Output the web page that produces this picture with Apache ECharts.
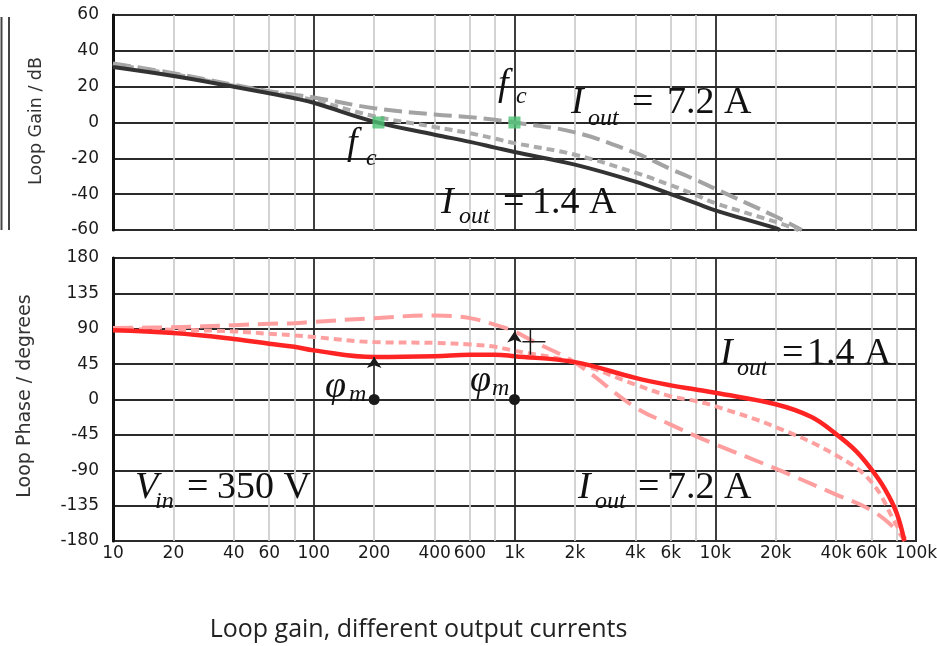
<!DOCTYPE html>
<html><head><meta charset="utf-8">
<script src="https://cdn.jsdelivr.net/npm/echarts@6/dist/echarts.min.js"></script>
<style>html,body{margin:0;padding:0;background:#fff}#c{width:937px;height:646px}</style>
</head><body><div id="c"></div>
<script>
// ---- axis ticks ----
const xTickValues = [10,20,40,60,80,100,200,400,600,800,1000,2000,4000,6000,8000,10000,20000,40000,60000,80000,100000];
const xLabelValues = [10,20,40,60,100,200,400,600,1000,2000,4000,6000,10000,20000,40000,60000,100000];

// ---- loop gain (dB) ----
const gainFreq14 = [10,20,40,60,80,100,200,400,600,800,1000,2000,4000,6000,8000,10000,20000,21000];
const gain14     = [31,26,20,16.3,13.5,11,0.5,-6.8,-10.8,-14,-16.5,-23.5,-33,-40,-45,-49,-59,-60];
const gainFreqMid = [10,20,40,60,80,100,200,400,600,800,1000,2000,4000,6000,8000,10000,20000,26000];
const gainMid     = [32.5,27,20.5,17,14.5,12.5,3.5,-2.5,-6,-9,-11.5,-18,-28,-35,-40.5,-45,-55.5,-60];
const gainFreq72 = [10,20,40,60,80,100,200,400,600,800,1000,2000,4000,6000,8000,10000,20000,27000];
const gain72     = [33,27.5,21,17.5,15.5,14,8,4.5,3,1.5,0,-5.5,-17,-26,-32,-37,-52.5,-60];

// ---- loop phase (degrees) ----
const phaseFreq14 = [10,20,40,60,80,100,200,400,600,800,1000,2000,4000,6000,8000,10000,20000,30000,40000,50000,60000,70000,80000,87500];
const phase14     = [88,84.5,77,71,67,62.5,54,55,57,57,55,47.5,27.5,18,12.7,8.5,-6,-22,-44,-65,-89,-114,-144,-180];
const phaseFreqMid = [10,20,40,60,80,100,200,400,600,800,1000,2000,4000,6000,8000,10000,20000,40000,60000,80000,90000];
const phaseMid     = [89.6,88.7,86.6,83.6,81.5,79.5,73,72,70,67,62,47,19,4,-2,-8.5,-35,-71,-105,-160,-180];
const phaseFreq72 = [10,20,40,60,80,100,200,400,600,800,1000,1250,2000,4000,6000,8000,10000,20000,40000,60000,80000,88000];
const phase72     = [91,92,94.6,96.3,97,98.8,103.5,107,103.5,95,86.5,73.5,47,-10,-32,-46.5,-57,-88,-121,-141,-166,-180];

// ---- annotation points ----
const fcPoints = [[210,0],[1000,0]];
const marginArrows = [[200,54],[1000,86.5]];
const crossMark = [1200,73.5];

const zip = (f, v) => f.map((x, i) => [x, v[i]]);
const serif = '"Liberation Serif","Times New Roman",serif';
const sans = '"DejaVu Sans",sans-serif';
function t(x, y, text, size, italic) {
  return {type:'text', x:x, y:y, z:100, silent:true,
    style:{text:text, font:(italic?'italic ':'')+size+'px '+serif, fill:'#111', align:'left', verticalAlign:'middle'}};
}

const xFmt = v => v >= 1000 ? (v/1000)+'k' : String(v);
const vSplitColors = ['#2a2a2a','#cfcfcf','#cfcfcf','#cfcfcf','#cfcfcf'];

function xAxis(grid, showLabels) {
  return {
    type:'log', logBase:10, min:10, max:100000, gridIndex:grid,
    axisLine:{show:false},
    axisTick:{show:false, customValues:xTickValues},
    axisLabel:{show:showLabels, customValues:xLabelValues, formatter:xFmt, color:'#1a1a1a',
      fontFamily:sans, fontSize:17, margin:4, hideOverlap:false, interval:0},
    splitLine:{show:true, lineStyle:{color:vSplitColors, width:1.8}},
    minorSplitLine:{show:false}
  };
}
function yAxis(grid, min, max, interval) {
  return {
    type:'value', gridIndex:grid, min:min, max:max, interval:interval,
    axisLine:{show:true, onZero:false, lineStyle:{color:'#111', width:3}},
    axisTick:{show:false},
    axisLabel:{color:'#1a1a1a', fontFamily:sans, fontSize:17, margin:14, padding:[6,0,0,0], hideOverlap:false},
    splitLine:{show:true, lineStyle:{color:'#2a2a2a', width:1.8}}
  };
}

const graphics = [
  {type:'line', shape:{x1:1.5,y1:17,x2:1.5,y2:230}, style:{stroke:'#444', lineWidth:2}},
  {type:'line', shape:{x1:9,y1:17,x2:9,y2:230}, style:{stroke:'#444', lineWidth:2}},
  {type:'text', x:36, y:121, rotation:Math.PI/2, style:{text:'Loop Gain / dB', font:'17.5px '+sans, fill:'#333', align:'center', verticalAlign:'middle'}},
  {type:'text', x:25, y:396, rotation:Math.PI/2, style:{text:'Loop Phase / degrees', font:'19px '+sans, fill:'#333', align:'center', verticalAlign:'middle'}},
  // gain annotations
  t(347,144,'f',38,true), t(366,159,'c',24,true),
  t(498,85,'f',38,true), t(516,97,'c',24,true),
  t(571,103.5,'I',38,true), t(588,119,'out',24,true), t(632,103.5,'=',38,false), t(667,103.5,'7.2 A',38,false),
  t(441,203.5,'I',38,true), t(459,217,'out',24,true), t(503,203.5,'=',38,false), t(532,203.5,'1.4 A',38,false),
  // phase annotations
  t(720,354,'I',38,true), t(737,369,'out',24,true), t(782,354,'=',38,false), t(807,354,'1.4 A',38,false),
  t(135,488.5,'V',38,true), t(155,502,'in',24,true), t(187,488.5,'=',38,false), t(217,488.5,'350 V',38,false),
  t(578,488.5,'I',38,true), t(595,502,'out',24,true), t(638,488.5,'=',38,false), t(667,488.5,'7.2 A',38,false),
  t(325,387,'φ',38,true), t(349,395,'m',24,true),
  t(470,381,'φ',38,true), t(492,389,'m',24,true),
  {type:'text', x:418.5, y:630, style:{text:'Loop gain, different output currents', font:'25px "Open Sans", sans-serif', fill:'#222', align:'center', verticalAlign:'middle'}}
];

const option = {
  backgroundColor:'#fff',
  animation:false,
  grid:[
    {left:113, top:15, width:803, height:215, show:true, borderColor:'#222', borderWidth:2, containLabel:false, outerBoundsMode:'none'},
    {left:113, top:258, width:803, height:283, show:true, borderColor:'#222', borderWidth:2, containLabel:false, outerBoundsMode:'none'}
  ],
  xAxis:[xAxis(0,false), xAxis(1,true)],
  yAxis:[yAxis(0,-60,60,20), yAxis(1,-180,180,45)],
  series:[
    {type:'line', xAxisIndex:0, yAxisIndex:0, data:zip(gainFreq72,gain72), showSymbol:false, symbol:'none',
      smooth:0.4, lineStyle:{color:'#a3a3a3', width:4, type:[18,7]}, z:3},
    {type:'line', xAxisIndex:0, yAxisIndex:0, data:zip(gainFreqMid,gainMid), showSymbol:false, symbol:'none',
      smooth:0.4, lineStyle:{color:'#ababab', width:4, type:[8,5]}, z:3},
    {type:'line', xAxisIndex:0, yAxisIndex:0, data:zip(gainFreq14,gain14), showSymbol:false, symbol:'none',
      smooth:0.4, lineStyle:{color:'#333', width:4}, z:4},
    {type:'scatter', xAxisIndex:0, yAxisIndex:0, data:fcPoints, symbol:'rect', symbolSize:12,
      itemStyle:{color:'#4cc174'}, z:10, silent:true},

    {type:'line', xAxisIndex:1, yAxisIndex:1, data:zip(phaseFreq72,phase72), showSymbol:false, symbol:'none',
      smooth:0.4, lineStyle:{color:'#ff9e9e', width:4, type:[20,9]}, z:3},
    {type:'line', xAxisIndex:1, yAxisIndex:1, data:zip(phaseFreqMid,phaseMid), showSymbol:false, symbol:'none',
      smooth:0.4, lineStyle:{color:'#ffa0a0', width:4, type:[8,5]}, z:3},
    {type:'line', xAxisIndex:1, yAxisIndex:1, data:zip(phaseFreq14,phase14), showSymbol:false, symbol:'none',
      smooth:0.4, lineStyle:{color:'#ff2424', width:4.5}, z:4,
      markLine:{silent:true, symbol:['circle','arrow'], symbolSize:[11,11], label:{show:false},
        lineStyle:{color:'#1a1a1a', width:1.5, type:'solid'}, animation:false,
        data: marginArrows.map(p => [{coord:[p[0],0]},{coord:p}])}}
  ],
  graphic: graphics
};
const chart = echarts.init(document.getElementById('c'), null, {renderer:'canvas'});
chart.setOption(option);
// "+" marker on the 7.2 A phase curve, positioned through the axes
const cp = chart.convertToPixel({xAxisIndex:1, yAxisIndex:1}, crossMark);
graphics.push(
  {type:'line', z:100, shape:{x1:cp[0]-8, y1:cp[1], x2:cp[0]+15, y2:cp[1]}, style:{stroke:'#1a1a1a', lineWidth:1.5}},
  {type:'line', z:100, shape:{x1:cp[0], y1:cp[1]-13, x2:cp[0], y2:cp[1]+13}, style:{stroke:'#1a1a1a', lineWidth:1.5}}
);
chart.setOption({graphic: graphics}, {replaceMerge:['graphic']});
</script></body></html>
